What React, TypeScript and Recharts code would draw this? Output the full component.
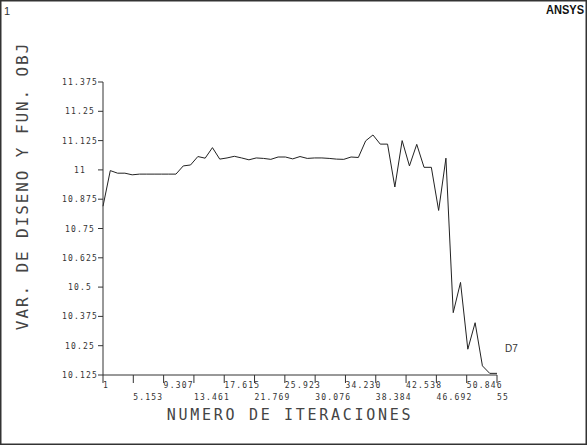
import React from 'react';
import {Line, LineChart, XAxis, YAxis} from 'recharts';

const iterations = [
    1, 2, 3, 4, 5, 6, 7, 8, 9, 10, 11, 12, 13, 14, 15, 16, 17, 18, 19, 20,
    21, 22, 23, 24, 25, 26, 27, 28, 29, 30, 31, 32, 33, 34, 35, 36, 37, 38, 39, 40,
    41, 42, 43, 44, 45, 46, 47, 48, 49, 50, 51, 52, 53, 54, 55,
];

const d7Values = [
    10.845, 10.997, 10.986, 10.986, 10.979, 10.982, 10.982, 10.982, 10.982, 10.982,
    10.982, 11.017, 11.021, 11.057, 11.05, 11.095, 11.046, 11.051, 11.058, 11.051,
    11.043, 11.051, 11.049, 11.045, 11.055, 11.055, 11.047, 11.057, 11.049, 11.051,
    11.051, 11.049, 11.046, 11.045, 11.055, 11.053, 11.124, 11.149, 11.11, 11.11,
    10.927, 11.125, 11.017, 11.109, 11.011, 11.011, 10.827, 11.05, 10.391, 10.52,
    10.235, 10.348, 10.164, 10.132, 10.132,
];

const xTickLabels = [
    '1', '5.153', '9.307', '13.461', '17.615', '21.769', '25.923',
    '30.076', '34.230', '38.384', '42.538', '46.692', '50.846', '55',
];

const yTickLabels = [
    '10.125', '10.25', '10.375', '10.5', '10.625', '10.75',
    '10.875', '11', '11.125', '11.25', '11.375',
];

const data = iterations.map((it, i) => ({iter: it, d7: d7Values[i]}));
const xTicks = xTickLabels.map(Number);
const yTicks = yTickLabels.map(Number);

const MONO = '"DejaVu Sans Mono", monospace';
const INK = '#333';

const XTick = (props: any) => {
    const {x, y, index} = props;
    const label = xTickLabels[index] ?? String(props.payload.value);
    const dy = index % 2 === 0 ? 5 : 17;
    return (
        <text x={x} y={y + dy} textAnchor="start" fontFamily={MONO} fontSize={8}
              letterSpacing={1.2} fill={INK}>
            {label}
        </text>
    );
};

const YTick = (props: any) => {
    const {y, index} = props;
    const label = yTickLabels[index] ?? String(props.payload.value);
    return (
        <text x={80} y={y + 3} textAnchor="middle" fontFamily={MONO} fontSize={8}
              letterSpacing={1.2} fill={INK}>
            {label}
        </text>
    );
};

export default function App() {
    return (
        <div style={{position: 'absolute', left: 0, top: 0, width: 587, height: 445, background: '#fff'}}>
            <LineChart
                width={587}
                height={445}
                data={data}
                margin={{top: 82, right: 90, bottom: 40, left: 43}}
            >
                <XAxis
                    dataKey="iter"
                    type="number"
                    domain={[1, 55]}
                    ticks={xTicks}
                    interval={0}
                    height={30}
                    tickSize={8}
                    tickMargin={0}
                    stroke={INK}
                    tick={<XTick/>}
                />
                <YAxis
                    type="number"
                    domain={[10.125, 11.375]}
                    ticks={yTicks}
                    interval={0}
                    width={60}
                    tickSize={5}
                    tickMargin={2}
                    stroke={INK}
                    allowDataOverflow
                    tick={<YTick/>}
                />
                <Line
                    type="linear"
                    dataKey="d7"
                    stroke="#222"
                    strokeWidth={1}
                    dot={false}
                    isAnimationActive={false}
                />
            </LineChart>

            {/* frame, titles and ANSYS decorations */}
            <svg width={587} height={445} style={{position: 'absolute', left: 0, top: 0, pointerEvents: 'none'}}>
                <rect x={0.75} y={0.75} width={585.5} height={443.5} fill="none" stroke={INK} strokeWidth={1.5}/>
                <text x={4} y={15} fontFamily="Liberation Sans, sans-serif" fontSize={11} fill={INK}>1</text>
                <text x={546} y={14} fontFamily="Liberation Sans, sans-serif" fontSize={12} fontWeight={900}
                      fill="#111" textLength={38} lengthAdjust="spacingAndGlyphs">ANSYS</text>
                <text
                    x={22}
                    y={186}
                    transform="rotate(-90 22 186)"
                    textAnchor="middle"
                    dominantBaseline="central"
                    fontFamily={MONO}
                    fontSize={16}
                    letterSpacing={1.9}
                    fill="#444"
                >
                    VAR. DE DISENO Y FUN. OBJ
                </text>
                <text x={290} y={420} textAnchor="middle" fontFamily={MONO} fontSize={15}
                      letterSpacing={2.7} fill="#444">
                    NUMERO DE ITERACIONES
                </text>
                <text x={505} y={352} fontFamily="Liberation Sans, sans-serif" fontSize={10} fill={INK}>D7</text>
            </svg>
        </div>
    );
}
